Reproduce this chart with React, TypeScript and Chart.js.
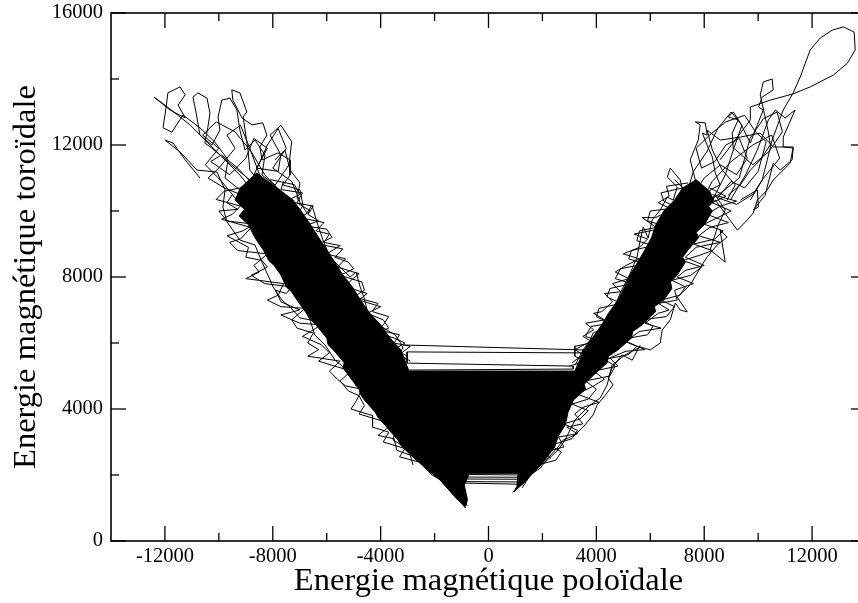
import React, { useEffect, useRef } from 'react';
import { Chart, registerables } from 'chart.js';

Chart.register(...registerables);

const xMajorTicks = [-12000, -8000, -4000, 0, 4000, 8000, 12000];
const xMinorTicks = [-10000, -6000, -2000, 2000, 6000, 10000];
const yMajorTicks = [0, 4000, 8000, 12000, 16000];
const yMinorTicks = [2000, 6000, 10000, 14000];

const xTitle = 'Energie magnétique poloïdale';
const yTitle = 'Energie magnétique toroïdale';

type P = [number, number];

// densely overlapped part of the trajectory (solid black in the picture)
const denseCore: P[] = [
  [-9200, 10700], [-9400, 10330], [-9050, 10050], [-9250, 9850], [-8900, 9580], [-8700, 9250],
  [-8550, 9050], [-8350, 8820], [-8150, 8500], [-7950, 8350], [-7700, 8060], [-7500, 7700],
  [-7300, 7550], [-7100, 7300], [-6750, 6900], [-6650, 6750], [-6400, 6550], [-6000, 6150],
  [-5950, 5950], [-5750, 5790], [-5350, 5400], [-5400, 5250], [-5200, 5030], [-4800, 4600],
  [-4750, 4450], [-4600, 4270], [-4200, 3900], [-4100, 3750], [-3850, 3520], [-3350, 3050],
  [-3250, 2900], [-2900, 2610], [-2250, 2150], [-1800, 1850], [-1150, 1250], [-850, 1050],
  [-780, 1250], [-900, 1700], [-700, 2050], [1100, 2050], [1050, 1650], [950, 1500],
  [1300, 1750], [1700, 2100], [2000, 2350], [2450, 2850], [2600, 3200], [2850, 3520],
  [2950, 3900], [3150, 4270], [3600, 4600], [3550, 4750], [3900, 5030], [4400, 5400],
  [4450, 5600], [4800, 5790], [5300, 6150], [5350, 6350], [5700, 6550], [6200, 6950],
  [6150, 7100], [6500, 7300], [6800, 7650], [6750, 7850], [7000, 8060], [7300, 8450],
  [7200, 8600], [7400, 8820], [7800, 9200], [7700, 9350], [8000, 9580], [8300, 10000],
  [8150, 10150], [8350, 10330], [8200, 10600], [7700, 10950], [7200, 10700], [6900, 10330],
  [6500, 10000], [6200, 9580], [6050, 9200], [5800, 8820], [5500, 8400], [5250, 8060],
  [5050, 7700], [4800, 7300], [4450, 6900], [4200, 6550], [3850, 6150], [3550, 5790],
  [3200, 5150], [-2950, 5150], [-3250, 5790], [-3650, 6150], [-4000, 6550], [-4400, 6900],
  [-4750, 7300], [-5050, 7700], [-5400, 8060], [-5700, 8450], [-6000, 8820], [-6300, 9200],
  [-6600, 9580], [-6950, 10000], [-7250, 10330], [-8000, 10800], [-8600, 11150], [-9200, 10700],
];

const traceA: P[] = [
  [-8470, 10330], [-9220, 11090], [-10140, 11850], [-11070, 12610], [-12000, 13210], [-12400, 13450],
  [-11810, 13060], [-11250, 12820], [-11510, 13210], [-11250, 13520], [-11440, 13760], [-11890, 13580],
  [-11960, 13120], [-12070, 12520], [-11740, 12390], [-11330, 12910], [-10700, 12520], [-10150, 12090],
  [-9660, 11550], [-9770, 11000], [-9220, 10640],
];

const traceB: P[] = [
  [-8850, 10940], [-9520, 11390], [-10260, 11910], [-10520, 12060], [-10410, 12520], [-10330, 12970],
  [-10440, 13420], [-10780, 13580], [-10960, 13450], [-10850, 13000], [-10700, 12300], [-10260, 12000],
  [-9960, 12450], [-10030, 12850], [-9890, 13360], [-9590, 13420], [-9330, 13060], [-9220, 12450],
  [-9030, 11850], [-8660, 12150], [-8290, 11700], [-8400, 11090], [-7920, 10790], [-8100, 10330],
];

const traceC: P[] = [
  [-7730, 10330], [-8400, 10790], [-8850, 11240], [-8920, 11850], [-9100, 12850], [-8960, 13000],
  [-9220, 13580], [-9520, 13670], [-9480, 13360], [-9140, 12820], [-8770, 12610], [-8370, 12670],
  [-8220, 12300], [-8480, 11940], [-8400, 11550], [-7810, 11760], [-7360, 11550], [-7360, 11090],
  [-7620, 10790], [-6990, 10640], [-6880, 10180], [-7180, 9730],
];

const traceD: P[] = [
  [-10700, 11000], [-11250, 11550], [-11700, 12060], [-12000, 12150], [-11440, 11790], [-10810, 11240],
  [-10070, 11180], [-9770, 10640], [-9850, 10120], [-9700, 9670], [-9220, 9120], [-8660, 8970],
  [-8400, 8450], [-8100, 7910], [-7990, 7700], [-7660, 7300], [-7360, 7090], [-6990, 6760],
  [-6620, 6700], [-6440, 6240], [-6060, 5940], [-5690, 5480], [-5390, 5270], [-5020, 4970],
  [-4760, 4640], [-4390, 4270], [-4020, 3910], [-3580, 3520], [-3090, 3060], [-2720, 2610],
  [-2350, 2240], [-1790, 1850],
];

const traceE: P[] = [
  [-7920, 11550], [-7550, 11850], [-7360, 11240], [-6990, 10850], [-7100, 10390], [-6730, 9940],
  [-6550, 10180], [-6330, 9580], [-6140, 9120], [-5880, 8610], [-5510, 8300], [-5130, 8000],
  [-4910, 8150], [-4760, 7700], [-4610, 7360], [-4500, 7000], [-4320, 6700], [-3760, 6390],
  [-3460, 6240], [-3280, 6030], [-3170, 5850], [-3350, 5640], [-3200, 5420],
];

const traceG: P[] = [
  [8590, 11550], [9150, 12150], [9710, 12760], [9710, 13150], [10450, 13360], [11300, 13550],
  [11930, 13760], [12790, 14120], [13310, 14480], [13600, 14880], [13560, 15420], [13160, 15580],
  [12750, 15480], [12300, 15240], [11930, 14880], [11560, 14060], [11300, 13580], [10930, 13060],
  [10520, 12150], [10340, 11550], [10150, 10940], [9710, 10330],
];

const traceH: P[] = [
  [7850, 10330], [7670, 10940], [7480, 11550], [7780, 12150], [7850, 12610], [7670, 12700],
  [8040, 12670], [8110, 12300], [7930, 12360], [8150, 11910], [8300, 11640], [8410, 11150],
  [8590, 10790], [8220, 10640], [8040, 10180],
];

const traceI: P[] = [
  [8300, 10330], [8780, 11090], [9080, 11850], [9040, 12360], [9260, 12760], [8890, 12850],
  [9080, 13000], [9340, 12670], [9600, 12240], [9710, 12060], [9970, 12610], [10190, 13060],
  [10010, 13150], [10150, 13450], [10560, 13670], [10520, 14000], [10190, 13910], [10080, 13520],
  [10380, 12390], [10450, 12000], [10080, 11550], [9710, 11240], [9340, 10790], [8890, 10480],
];

const traceJ: P[] = [
  [9340, 10330], [9970, 10640], [10010, 10120], [9820, 10030], [10260, 10480], [10560, 11450],
  [10820, 11240], [11260, 11550], [11300, 11910], [10930, 11940], [10930, 12240], [11370, 13060],
  [11000, 12820], [10640, 13060], [10380, 12760], [9970, 11850], [9530, 11090], [8970, 10330],
];

const traceK: P[] = [
  [3210, 5330], [3510, 5790], [3770, 6090], [3880, 6300], [4140, 6390], [4400, 6790],
  [4620, 7000], [4890, 7520], [5260, 8120], [5510, 8610], [5630, 9120], [5740, 9520],
  [5920, 9180], [6070, 9730], [6370, 10030], [6630, 10420], [6850, 10330], [7000, 10730],
  [6630, 11030], [6740, 11300], [7110, 10940], [7290, 10330],
];

const traceL: P[] = [
  [2100, 2390], [2580, 2760], [2840, 3060], [3210, 3670], [3770, 4120], [4140, 4330],
  [4400, 4730], [4580, 5330], [5070, 5640], [5630, 5880], [6000, 5790], [6370, 6000],
  [6440, 6390], [6740, 6700], [6930, 7210], [7110, 7000], [7370, 6940], [7000, 7390],
  [7480, 7760], [7960, 8420], [8110, 8610], [8480, 8970], [8850, 9210], [8590, 9420],
  [8780, 8450], [8220, 8820], [8520, 9580], [8780, 10030], [8410, 10480], [8040, 10180],
];

const traceM: P[] = [
  [7850, 9880], [8410, 10330], [9230, 9420], [9600, 9730], [9820, 9940], [9970, 10330],
  [10340, 10640], [10560, 10940], [11190, 11450], [11300, 11940], [10560, 11940], [10080, 12360],
  [9340, 12240], [8590, 12150], [8110, 12450], [8300, 11850], [8670, 11240], [9150, 10790],
  [8850, 10330],
];

const traceN: P[] = [
  [-5130, 5480], [-4760, 4940], [-4950, 4730], [-4470, 4520], [-4320, 4120], [-4020, 3970],
  [-3830, 3610], [-3460, 3360], [-3540, 3060], [-3090, 2850], [-2830, 2610], [-2530, 2450],
  [-2350, 2210], [-2090, 2000], [-1790, 1850],
];

const traceO: P[] = [
  [1250, 1610], [1550, 2000], [1920, 2210], [2210, 2520], [2550, 2820], [2770, 3060],
  [3210, 3210], [3580, 3520], [3880, 3820], [4030, 4120], [4330, 4420], [4620, 4730],
  [4440, 4940], [4580, 5240], [4950, 5640], [5330, 5480], [5630, 5940],
];

const leftOuterA: P[] = [
  [-8900, 10750], [-9800, 10600], [-10100, 10350], [-9200, 10150], [-9500, 9900], [-9900, 9750],
  [-8800, 9500], [-9200, 9150], [-9600, 9050], [-9300, 8800], [-8200, 8700], [-8700, 8350],
  [-8500, 8150], [-9000, 7950], [-7600, 7800], [-7800, 7450], [-8200, 7300], [-7700, 7100],
  [-6800, 7050], [-7300, 6700], [-7100, 6450], [-6500, 6300], [-6700, 6000], [-6300, 5800],
  [-6700, 5600], [-5500, 5450], [-5900, 5150], [-5600, 4900], [-5300, 4700], [-4700, 4600],
  [-4900, 4250], [-5100, 4000], [-4300, 3800], [-4300, 3450], [-3700, 3300], [-3900, 3000],
  [-3100, 2800], [-3300, 2550], [-2600, 2400],
];

const leftOuterB: P[] = [
  [-9500, 10500], [-9700, 10250], [-9300, 10050], [-10000, 10000], [-9700, 9700], [-8700, 9600],
  [-9100, 9400], [-9700, 9250], [-8900, 8900], [-9000, 8600], [-8400, 8500], [-8200, 8300],
  [-8800, 8050], [-8300, 7800], [-7300, 7700], [-7500, 7500], [-7900, 7600], [-7700, 7250],
  [-7000, 7000], [-7700, 6850], [-7000, 6600], [-6200, 6550], [-6600, 6350], [-6900, 6200],
  [-6200, 5950], [-5900, 5700], [-6300, 5450], [-5700, 5300], [-5100, 5150], [-5500, 4850],
  [-5200, 4550], [-4800, 4400], [-4600, 4100], [-4800, 3850], [-4000, 3650], [-3700, 3450],
  [-4100, 3200], [-3500, 3100], [-3400, 2750], [-2900, 2600], [-2800, 2300],
];

const leftInnerA: P[] = [
  [-8100, 10950], [-7200, 10800], [-7000, 10500], [-7500, 10300], [-6500, 10150], [-6700, 9900],
  [-6300, 9700], [-6800, 9550], [-6000, 9450], [-5800, 9200], [-6300, 9000], [-5400, 8850],
  [-5700, 8600], [-5200, 8450], [-5000, 8250], [-5500, 8050], [-4700, 7850], [-4600, 7600],
  [-5000, 7400], [-4100, 7200], [-4300, 6950], [-3700, 6800], [-3900, 6550], [-4100, 6400],
  [-3300, 6250], [-3500, 6000], [-2900, 5900], [-3300, 5650], [-2900, 5450],
];

const leftInnerB: P[] = [
  [-7600, 10900], [-7700, 10650], [-6900, 10550], [-7100, 10250], [-6600, 10000], [-7000, 9800],
  [-6100, 9650], [-6400, 9400], [-5900, 9300], [-6100, 9050], [-5500, 8950], [-6000, 8700],
  [-5300, 8550], [-5600, 8300], [-4800, 8100], [-5100, 7900], [-5300, 7700], [-4500, 7500],
  [-4800, 7300], [-4000, 7100], [-4500, 6900], [-3900, 6700], [-3700, 6450], [-4100, 6300],
  [-3500, 6150], [-3100, 6000], [-3500, 5800], [-3000, 5600], [-3200, 5400],
];

const rightOuterA: P[] = [
  [1800, 2300], [2500, 2450], [2700, 2700], [2300, 2900], [3100, 3100], [3300, 3350],
  [2800, 3550], [3400, 3700], [3700, 3950], [3100, 4150], [3700, 4300], [4000, 4600],
  [3600, 4850], [4500, 5000], [4700, 5300], [4300, 5500], [5200, 5650], [5500, 5900],
  [4900, 6100], [5900, 6250], [6100, 6500], [5700, 6700], [6600, 6800], [6900, 7100],
  [6400, 7300], [7100, 7450], [7300, 7700], [6800, 7900], [7500, 8050], [7900, 8300],
  [7200, 8500], [7800, 8650], [8300, 8800], [7600, 9000], [8400, 9150], [8700, 9400],
  [8000, 9600], [8500, 9800], [9000, 10000], [8300, 10250], [8800, 10450], [8200, 10700],
];

const rightOuterB: P[] = [
  [2300, 2500], [2100, 2700], [2800, 2850], [2600, 3150], [3300, 3250], [2900, 3450],
  [3500, 3550], [3200, 3850], [3500, 4050], [4100, 4200], [3300, 4450], [3900, 4700],
  [4300, 4900], [3900, 5150], [4800, 5300], [4500, 5550], [5100, 5750], [5800, 5800],
  [5100, 6050], [5600, 6350], [6400, 6450], [5800, 6600], [6300, 6900], [6700, 7000],
  [6300, 7200], [7000, 7300], [6900, 7600], [7600, 7800], [7000, 8000], [7300, 8200],
  [8000, 8350], [7300, 8600], [7700, 8900], [8600, 9050], [7800, 9250], [8200, 9500],
  [8900, 9650], [8100, 9900], [8600, 10150], [9200, 10300], [8300, 10500],
];

const rightInnerA: P[] = [
  [6900, 10950], [7200, 10700], [6400, 10550], [6500, 10300], [7000, 10100], [6000, 10000],
  [5900, 9700], [6500, 9550], [5600, 9400], [5500, 9100], [6100, 8950], [5300, 8800],
  [5200, 8550], [5800, 8400], [4900, 8250], [4700, 7950], [5300, 7800], [4500, 7650],
  [4400, 7400], [4900, 7200], [4100, 7050], [4000, 6800], [4500, 6600], [3800, 6500],
  [3600, 6200], [4100, 6050], [3200, 5900], [3200, 5600], [3600, 5450], [3000, 5300],
];

const rightInnerB: P[] = [
  [7400, 10850], [6600, 10750], [6700, 10450], [6300, 10250], [6800, 10050], [6200, 9800],
  [5700, 9800], [6300, 9450], [5400, 9300], [5900, 9150], [5600, 8900], [5000, 8700],
  [5600, 8550], [5100, 8350], [4700, 8150], [5200, 7950], [4600, 7800], [4900, 7550],
  [4300, 7500], [4600, 7250], [4200, 6950], [3900, 6900], [4300, 6700], [3600, 6600],
  [3900, 6400], [3500, 6200], [3800, 6050], [3200, 5800], [3500, 5650], [3100, 5400],
];

const leftTopCluster: P[] = [
  [-8500, 10600], [-9300, 11300], [-9900, 11700], [-10300, 11500], [-9600, 11100], [-9000, 11600],
  [-8700, 12200], [-8200, 11900], [-8600, 11300], [-7800, 11200], [-7700, 11700], [-8100, 12300],
  [-7700, 12600], [-7300, 12100], [-7400, 11400], [-7900, 10800], [-8900, 10400], [-9800, 10700],
  [-10400, 11000], [-10000, 11300], [-9400, 11900], [-9700, 12300], [-9200, 12600], [-8900, 12000],
  [-8400, 10900], [-8000, 10500],
];

const leftTopCluster2: P[] = [
  [-7600, 10500], [-8300, 11100], [-8800, 11800], [-9400, 12400], [-10100, 12700], [-10600, 12300],
  [-10000, 11900], [-10500, 11400], [-9900, 10900], [-9300, 10300], [-8800, 10900], [-8200, 12000],
  [-7800, 12500], [-7500, 11900], [-8000, 11300], [-7300, 10900], [-7000, 10300],
];

const rightTopCluster: P[] = [
  [7600, 10500], [8000, 11000], [8600, 11400], [9200, 11100], [9600, 11600], [9300, 12200],
  [8800, 12000], [8400, 11500], [7900, 11300], [7700, 11900], [8200, 12300], [8800, 12700],
  [9500, 12900], [9900, 12400], [10300, 12100], [10000, 11200], [9500, 10700], [9000, 10900],
  [8500, 10400], [9200, 10200], [9800, 10500], [10200, 11000], [10800, 11600], [10500, 12300],
  [9800, 12000], [9000, 11500], [8300, 10900], [7900, 10300],
];

const rightTopCluster2: P[] = [
  [7300, 10400], [7600, 11200], [8100, 11800], [8500, 12500], [9000, 13000], [9400, 12600],
  [9100, 11900], [9800, 11400], [10400, 11800], [10900, 12400], [10700, 13000], [10200, 12800],
  [9700, 12200], [9300, 11000], [8700, 10600], [8000, 10200],
];

const bridgeUpper: P[] = [
  [-3170, 5940], [3510, 5790], [3510, 5700], [-3020, 5730], [-3020, 5390], [3140, 5300],
  [3140, 5210], [-2950, 5180],
];

const bridgeLower: P[] = [
  [-1500, 2100], [1600, 2080], [1550, 2000], [-1400, 2020], [-1350, 1940], [1480, 1930],
  [1420, 1870], [-1300, 1880], [-1250, 1800], [1300, 1790], [1250, 1720], [-1200, 1760],
];

const leftTip: P[] = [
  [-1790, 1850], [-850, 1000], [-1300, 1500], [-950, 1150], [-1600, 1750], [-800, 1080], [-1100, 1400],
];

const rightTip: P[] = [
  [1360, 1850], [900, 1480], [1150, 1650], [950, 1500], [1700, 2150],
];

const traces: P[][] = [
  traceA, traceB, traceC, traceD, traceE, traceG, traceH, traceI, traceJ, traceK, traceL,
  traceM, traceN, traceO, leftOuterA, leftOuterB, leftInnerA, leftInnerB, rightOuterA,
  rightOuterB, rightInnerA, rightInnerB, leftTopCluster, leftTopCluster2, rightTopCluster,
  rightTopCluster2, bridgeUpper, bridgeLower, leftTip, rightTip,
];

const FONT = 'Liberation Serif, Times New Roman, serif';

const frameTicks = {
  id: 'frameTicks',
  afterDraw(chart: any) {
    const { ctx, chartArea, scales } = chart;
    const { left, right, top, bottom } = chartArea;
    const xs = scales.x;
    const ys = scales.y;
    ctx.save();
    ctx.strokeStyle = '#000';
    ctx.lineWidth = 1.6;
    ctx.strokeRect(left, top, right - left, bottom - top);
    ctx.lineWidth = 1.3;
    const seg = (x1: number, y1: number, x2: number, y2: number) => {
      ctx.beginPath();
      ctx.moveTo(x1, y1);
      ctx.lineTo(x2, y2);
      ctx.stroke();
    };
    const xt = (vals: number[], len: number) => {
      for (const v of vals) {
        const p = xs.getPixelForValue(v);
        seg(p, bottom, p, bottom - len);
        seg(p, top, p, top + len);
      }
    };
    const yt = (vals: number[], len: number) => {
      for (const v of vals) {
        const p = ys.getPixelForValue(v);
        seg(left, p, left + len, p);
        seg(right, p, right - len, p);
      }
    };
    xt(xMajorTicks, 15);
    xt(xMinorTicks, 8);
    yt(yMajorTicks, 15);
    yt(yMinorTicks, 8);
    ctx.restore();
  },
};

export default function App() {
  const ref = useRef<HTMLCanvasElement>(null);

  useEffect(() => {
    const canvas = ref.current;
    if (!canvas) return;
    const toPts = (arr: P[]) => arr.map(([x, y]) => ({ x, y }));
    const lineDs = (arr: P[]) => ({
      data: toPts(arr),
      borderColor: '#000',
      borderWidth: 1,
      pointRadius: 0,
      fill: false,
      tension: 0,
    });
    const chart = new Chart(canvas, {
      type: 'line',
      data: {
        datasets: [
          {
            data: toPts(denseCore),
            borderColor: '#000',
            backgroundColor: '#000',
            borderWidth: 1,
            pointRadius: 0,
            fill: 'shape',
            tension: 0,
          } as any,
          ...traces.map(lineDs),
        ],
      },
      options: {
        animation: false,
        responsive: false,
        devicePixelRatio: 1,
        events: [],
        layout: { padding: { left: 0, top: 13, right: 4, bottom: 0 } },
        plugins: { legend: { display: false }, tooltip: { enabled: false } },
        scales: {
          x: {
            type: 'linear',
            min: -14000,
            max: 14000,
            afterBuildTicks: (s: any) => {
              s.ticks = xMajorTicks.map((v) => ({ value: v }));
            },
            afterFit: (s: any) => {
              s.height = 62;
              s.paddingLeft = 0;
              s.paddingRight = 0;
            },
            grid: { display: false, drawTicks: false },
            border: { display: false },
            ticks: {
              color: '#000',
              padding: 3,
              maxRotation: 0,
              autoSkip: false,
              font: { family: FONT, size: 20.5 },
              callback: (v: any) => String(v),
            },
            title: {
              display: true,
              text: xTitle,
              color: '#000',
              font: { family: FONT, size: 32.5 },
              padding: { top: 0, bottom: 2 },
            },
          },
          y: {
            type: 'linear',
            min: 0,
            max: 16000,
            afterBuildTicks: (s: any) => {
              s.ticks = yMajorTicks.map((v) => ({ value: v }));
            },
            afterFit: (s: any) => {
              s.width = 111;
              s.paddingTop = 0;
              s.paddingBottom = 0;
            },
            grid: { display: false, drawTicks: false },
            border: { display: false },
            ticks: {
              color: '#000',
              padding: 8,
              autoSkip: false,
              font: { family: FONT, size: 20.5 },
              callback: (v: any) => String(v),
            },
            title: {
              display: true,
              text: yTitle,
              color: '#000',
              font: { family: FONT, size: 32.5 },
              padding: { top: 7, bottom: 0 },
            },
          },
        },
      } as any,
      plugins: [frameTicks],
    });
    return () => chart.destroy();
  }, []);

  return (
    <div
      style={{
        position: 'fixed',
        left: 0,
        top: 0,
        width: 858,
        height: 603,
        overflow: 'hidden',
        background: '#fff',
      }}
    >
      <canvas ref={ref} width={870} height={603} style={{ display: 'block' }} />
    </div>
  );
}
